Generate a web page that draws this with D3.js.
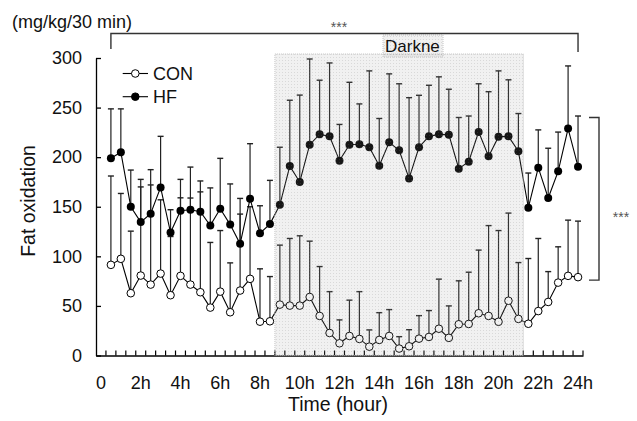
<!DOCTYPE html>
<html>
<head>
<meta charset="utf-8">
<script src="https://cdn.jsdelivr.net/npm/d3@7"></script>
<style>
  html, body { margin: 0; padding: 0; background: #fff; }
  svg { display: block; font-family: "Liberation Sans", Arial, sans-serif; }
</style>
</head>
<body>
<div id="chart"></div>
<script>
// Half-hour time points (hours) and series values
const times = [0.5, 1, 1.5, 2, 2.5, 3, 3.5, 4, 4.5, 5, 5.5, 6, 6.5, 7, 7.5, 8,
  8.5, 9, 9.5, 10, 10.5, 11, 11.5, 12, 12.5, 13, 13.5, 14, 14.5, 15, 15.5, 16,
  16.5, 17, 17.5, 18, 18.5, 19, 19.5, 20, 20.5, 21, 21.5, 22, 22.5, 23, 23.5, 24];

const hfMean = [199, 205, 150, 134.5, 143, 169.5, 124, 146, 147, 145,
  131, 148, 132, 112.6, 158, 123.4, 132.5, 152, 191, 175,
  212.6, 223, 221, 196.5, 212.6, 213, 210, 191.4, 215, 207,
  178.6, 210, 221, 223, 222.7, 188.4, 195.5, 225.5, 200.8, 220.7,
  221, 205.9, 149, 189.4, 158.8, 185.7, 228.8, 190.4];
const hfUpper = [248.7, 248.7, 187, 177.6, 187.4, 221, 147, 177.6, 190, 176,
  169, 198.8, 173, 158.4, 213.6, 151, 176.6, 210, 257.4, 262.6,
  299, 277.6, 295, 233, 275.5, 253.7, 287, 239, 284, 274,
  260, 262.4, 272.5, 281, 268.5, 240, 241.5, 274, 266, 287,
  278, 244, 184, 227.5, 209, 225.3, 292, 241.5];

const conMean = [91.4, 97.5, 62.8, 80.6, 71.5, 82.6, 60.8, 80.3, 71.5, 63.8,
  48.3, 64.4, 43.6, 65.5, 77.3, 34.1, 34.5, 51.3, 50.3, 50.3,
  59, 39.9, 22.7, 12.3, 19.7, 16.7, 8.9, 15.7, 19.7, 7,
  9.3, 17, 18.7, 27, 17.8, 31.5, 31.8, 42.6, 39.9, 34,
  55.2, 36.9, 32, 44.8, 54, 73.5, 80.3, 79];
const conUpper = [181, 163.4, 125.4, 170, 172, 157, 120, 159, 158.8, 165,
  114, 126, 93.4, 142.6, 150, 87.4, 79.6, 111.3, 118, 120.7,
  115.3, 89.7, 64.4, 35.9, 55.8, 64.4, 25.8, 43.2, 46.3, 19,
  26, 40.2, 45.3, 77, 50, 75.3, 84, 106.3, 131, 126,
  143.6, 93.7, 97.8, 118, 84.6, 109.6, 136.5, 135.5];

const xTickHours = [0, 2, 4, 6, 8, 10, 12, 14, 16, 18, 20, 22, 24];
const xTickLabels = ["0", "2h", "4h", "6h", "8h", "10h", "12h", "14h", "16h", "18h", "20h", "22h", "24h"];
const yTicks = [0, 50, 100, 150, 200, 250, 300];

const darkStart = 9, darkEnd = 21;      // first / last half-hour inside darkness
const bracketHigh = 240, bracketLow = 76;

const width = 637, height = 421;

const svg = d3.select("#chart").append("svg")
  .attr("width", width)
  .attr("height", height);

// dotted grey texture for the darkness period
const defs = svg.append("defs");
const pat = defs.append("pattern")
  .attr("id", "dots")
  .attr("width", 3).attr("height", 3)
  .attr("patternUnits", "userSpaceOnUse");
pat.append("rect").attr("width", 3).attr("height", 3)
  .attr("fill", "#9a9a9a").attr("fill-opacity", 0.14);
pat.append("rect").attr("x", 0).attr("y", 0).attr("width", 1).attr("height", 1)
  .attr("fill", "#777").attr("fill-opacity", 0.2);

const categories = [0].concat(times);
const x = d3.scaleBand()
  .domain(categories)
  .range([96, 583])
  .padding(0);
const cx = h => x(h) + x.bandwidth() / 2;

const y = d3.scaleLinear()
  .domain([0, 300])
  .range([355.5, 58]);

// y axis (ticks pointing inward)
const yAxis = svg.append("g")
  .attr("transform", "translate(96,0)")
  .call(d3.axisLeft(y).tickValues(yTicks).tickSizeInner(-5).tickSizeOuter(0).tickPadding(14));
yAxis.select(".domain").attr("stroke", "#000").attr("stroke-width", 1.3);
yAxis.selectAll(".tick line").attr("stroke", "#000").attr("stroke-width", 1.3);
yAxis.selectAll("text").attr("font-size", 18).attr("fill", "#111")
  .attr("font-family", "Liberation Sans, Arial, sans-serif");

// x axis: labels at category centers, ticks at category boundaries
const xAxis = svg.append("g")
  .attr("transform", `translate(0,${y(0)})`)
  .call(d3.axisBottom(x).tickValues(xTickHours)
    .tickFormat((d, i) => xTickLabels[i]).tickSize(0).tickPadding(21));
xAxis.select(".domain").attr("stroke", "#000").attr("stroke-width", 1.3);
xAxis.selectAll("text").attr("font-size", 18).attr("fill", "#111")
  .attr("font-family", "Liberation Sans, Arial, sans-serif");

xAxis.selectAll(".bnd")
  .data(categories)
  .enter().append("line")
  .attr("class", "bnd")
  .attr("x1", d => x(d) + x.bandwidth())
  .attr("x2", d => x(d) + x.bandwidth())
  .attr("y1", 0).attr("y2", -5)
  .attr("stroke", "#000").attr("stroke-width", 1.2);

// error bars (upper only)
function errorBars(means, uppers) {
  const g = svg.append("g");
  times.forEach((t, i) => {
    const xc = cx(t);
    g.append("line")
      .attr("x1", xc).attr("x2", xc)
      .attr("y1", y(means[i])).attr("y2", y(uppers[i]))
      .attr("stroke", "#222").attr("stroke-width", 1.2);
    g.append("line")
      .attr("x1", xc - 3).attr("x2", xc + 3)
      .attr("y1", y(uppers[i])).attr("y2", y(uppers[i]))
      .attr("stroke", "#222").attr("stroke-width", 1.4);
  });
}
errorBars(conMean, conUpper);
errorBars(hfMean, hfUpper);

const line = d3.line()
  .x((d, i) => cx(times[i]))
  .y(d => y(d));

svg.append("path").datum(hfMean)
  .attr("d", line).attr("fill", "none")
  .attr("stroke", "#000").attr("stroke-width", 1.1);
svg.append("path").datum(conMean)
  .attr("d", line).attr("fill", "none")
  .attr("stroke", "#000").attr("stroke-width", 1.1);

svg.append("g").selectAll("circle")
  .data(hfMean)
  .enter().append("circle")
  .attr("cx", (d, i) => cx(times[i]))
  .attr("cy", d => y(d))
  .attr("r", 4)
  .attr("fill", "#000");

svg.append("g").selectAll("circle")
  .data(conMean)
  .enter().append("circle")
  .attr("cx", (d, i) => cx(times[i]))
  .attr("cy", d => y(d))
  .attr("r", 3.8)
  .attr("fill", "#fff")
  .attr("stroke", "#000")
  .attr("stroke-width", 1);

// darkness overlay (drawn over the data, as in the original)
const dx0 = x(darkStart), dx1 = x(darkEnd) + x.bandwidth();
svg.append("rect")
  .attr("x", dx0).attr("y", y(300) - 4)
  .attr("width", dx1 - dx0).attr("height", y(0) - y(300) + 4)
  .attr("fill", "url(#dots)")
  .attr("stroke", "#c4c4c4").attr("stroke-width", 1)
  .attr("stroke-dasharray", "1,1");

// "Darkne" label box
svg.append("rect")
  .attr("x", 383).attr("y", 35).attr("width", 60).attr("height", 22)
  .attr("fill", "url(#dots)")
  .attr("stroke", "#c4c4c4").attr("stroke-dasharray", "1,1");
svg.append("text")
  .attr("x", 385).attr("y", 52)
  .attr("font-size", 17).attr("fill", "#111")
  .text("Darkne");

// legend
const legend = [
  { name: "CON", fill: "#fff", yy: 73.5 },
  { name: "HF", fill: "#000", yy: 96.7 }
];
legend.forEach(l => {
  svg.append("line")
    .attr("x1", 122.7).attr("x2", 148)
    .attr("y1", l.yy).attr("y2", l.yy)
    .attr("stroke", "#000").attr("stroke-width", 1.1);
  svg.append("circle")
    .attr("cx", 135.3).attr("cy", l.yy).attr("r", 3.8)
    .attr("fill", l.fill).attr("stroke", "#000").attr("stroke-width", 1);
  svg.append("text")
    .attr("x", 153).attr("y", l.yy + 6.5)
    .attr("font-size", 18).attr("fill", "#111")
    .text(l.name);
});

// axis titles
svg.append("text")
  .attr("x", 12).attr("y", 28)
  .attr("font-size", 18).attr("fill", "#111")
  .text("(mg/kg/30 min)");

svg.append("text")
  .attr("transform", "translate(35,201) rotate(-90)")
  .attr("text-anchor", "middle")
  .attr("font-size", 19.5).attr("fill", "#111")
  .text("Fat oxidation");

svg.append("text")
  .attr("x", 338).attr("y", 411)
  .attr("text-anchor", "middle")
  .attr("font-size", 19.5).attr("fill", "#111")
  .text("Time (hour)");

// significance brackets
const bx0 = cx(times[0]), bx1 = cx(times[times.length - 1]);
svg.append("path")
  .attr("d", `M${bx0},49 V33.5 H${bx1} V52`)
  .attr("fill", "none").attr("stroke", "#333").attr("stroke-width", 1.4);
svg.append("text")
  .attr("x", 339).attr("y", 32)
  .attr("text-anchor", "middle")
  .attr("font-size", 14).attr("fill", "#555")
  .text("***");

svg.append("path")
  .attr("d", `M589,${y(bracketHigh)} H599 V${y(bracketLow)} H589`)
  .attr("fill", "none").attr("stroke", "#333").attr("stroke-width", 1.4);
svg.append("text")
  .attr("x", 621).attr("y", 222)
  .attr("text-anchor", "middle")
  .attr("font-size", 14).attr("fill", "#555")
  .text("***");
</script>
</body>
</html>
